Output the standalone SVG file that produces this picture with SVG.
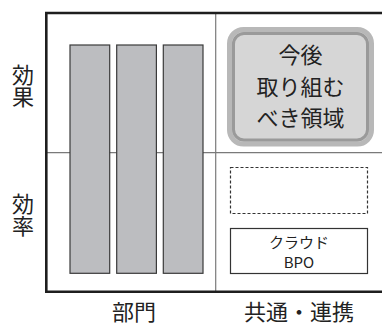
<svg xmlns="http://www.w3.org/2000/svg" width="382" height="325" viewBox="0 0 382 325">
<style>
.lbl{font-family:"Noto Sans CJK JP","Noto Sans",sans-serif;font-size:22px;fill:#222;text-anchor:middle}
.vt{font-family:"Noto Sans CJK JP","Noto Sans",sans-serif;font-size:22px;fill:#222;writing-mode:vertical-rl;text-anchor:start}
.sm{font-family:"Noto Sans CJK JP","Noto Sans",sans-serif;font-size:15px;fill:#222;text-anchor:middle}
.bar{fill:#bcbdc0;stroke:#3a3a3a;stroke-width:1.2}
.div{stroke:#7a7a7a;stroke-width:1.2;fill:none}
.frame{stroke:#1e1e1e;stroke-width:2.6;fill:none}
</style>
<rect width="382" height="325" fill="#fff"/>
<g id="grid">
<line class="div" x1="46" y1="152.7" x2="382" y2="152.7"/>
<line class="div" x1="215.7" y1="13" x2="215.7" y2="291.7"/>
</g>
<g id="frame">
<path class="frame" d="M382 13 H46.3 V291.7 H382"/>
</g>
<g id="bar1"><rect class="bar" x="70" y="45" width="39.7" height="228.3"/></g>
<g id="bar2"><rect class="bar" x="116.7" y="45" width="39.7" height="228.3"/></g>
<g id="bar3"><rect class="bar" x="163.3" y="45" width="39.7" height="228.3"/></g>
<g id="future">
<rect x="229.5" y="29.5" width="142" height="114.5" rx="14" fill="#d6d6d6" stroke="#b8b8b8" stroke-width="5"/>
<rect x="233.5" y="33.5" width="134" height="106.5" rx="10.5" fill="#d6d6d6" stroke="#9a9a9a" stroke-width="3"/>
<text class="lbl" x="300.5" y="63">今後</text>
<text class="lbl" x="300.5" y="94.5">取り組む</text>
<text class="lbl" x="300.5" y="126">べき領域</text>
</g>
<g id="dashed"><rect x="230.5" y="167.5" width="137" height="46" fill="#fff" stroke="#333" stroke-width="1.2" stroke-dasharray="3,2"/></g>
<g id="cloud">
<rect x="230.5" y="228.5" width="137" height="45" fill="#fff" stroke="#333" stroke-width="1.2"/>
<text class="sm" x="299" y="247.5">クラウド</text>
<text class="sm" x="299" y="267.5">BPO</text>
</g>
<g id="axis-labels">
<text class="vt" x="23" y="64">効果</text>
<text class="vt" x="23" y="193">効率</text>
<text class="lbl" x="134" y="320">部門</text>
<text class="lbl" x="299" y="320">共通・連携</text>
</g>
</svg>
